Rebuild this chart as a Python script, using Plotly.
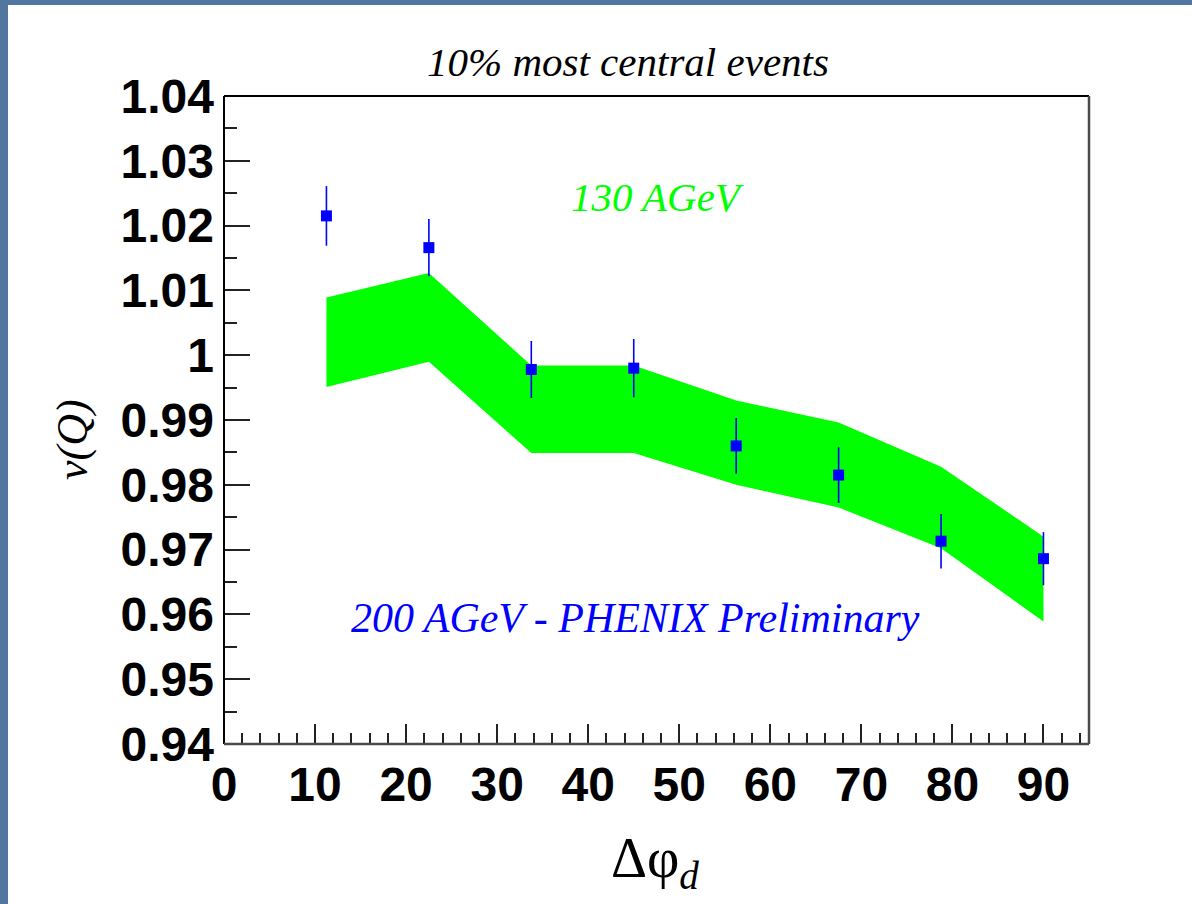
import plotly.graph_objects as go

# Azimuthal bins (degrees) and measured v(Q) at 200 AGeV
phi_d = [11.25, 22.5, 33.75, 45.0, 56.25, 67.5, 78.75, 90.0]
v_200 = [1.0215, 1.0166, 0.9978, 0.9980, 0.9860, 0.9815, 0.9713, 0.9686]
err_200 = [0.0046, 0.0044, 0.0044, 0.0045, 0.0043, 0.0043, 0.0042, 0.0041]

# 130 AGeV systematic band (upper / lower edges)
band_hi = [1.0089, 1.0127, 0.9984, 0.9984, 0.9930, 0.9896, 0.9828, 0.9720]
band_lo = [0.9951, 0.9990, 0.9849, 0.9849, 0.9800, 0.9765, 0.9702, 0.9589]

x_ticks = [0, 10, 20, 30, 40, 50, 60, 70, 80, 90]
y_ticks = [0.94, 0.95, 0.96, 0.97, 0.98, 0.99, 1.00, 1.01, 1.02, 1.03, 1.04]
y_tick_text = ["0.94", "0.95", "0.96", "0.97", "0.98", "0.99", "1", "1.01", "1.02", "1.03", "1.04"]

W, H = 1192, 904
L, R, T, B = 224, 103, 96, 160
PW, PH = W - L - R, H - T - B


def px(xp):
    return (xp - L) / PW


def py(yp):
    return (H - B - yp) / PH


fig = go.Figure()

fig.add_trace(go.Scatter(
    x=phi_d + phi_d[::-1],
    y=band_hi + band_lo[::-1],
    fill="toself", fillcolor="#00ff00",
    line=dict(width=0, color="#00ff00"),
    mode="lines", hoverinfo="skip", showlegend=False,
))

fig.add_trace(go.Scatter(
    x=phi_d, y=v_200, mode="markers",
    marker=dict(symbol="square", size=11, color="#0000ff", line=dict(width=0)),
    error_y=dict(type="data", array=err_200, color="#0000ff", thickness=1.6, width=0),
    showlegend=False,
))

tick_font = dict(family="Liberation Sans, Arial, sans-serif", size=48, color="black")
serif_it = "Liberation Serif, Times New Roman, serif"

fig.update_xaxes(
    range=[0, 95], tickvals=x_ticks, ticktext=[f"<b>{t}</b>" for t in x_ticks],
    ticks="inside", ticklen=20, tickwidth=1.5,
    tickcolor="#222", tickfont=tick_font, showgrid=False, zeroline=False,
    showline=False, ticklabelstandoff=8,
    minor=dict(dtick=2, ticks="inside", ticklen=11, tickwidth=1.5, tickcolor="#222", showgrid=False),
)
fig.update_yaxes(
    range=[0.94, 1.04], tickvals=y_ticks, ticktext=[f"<b>{t}</b>" for t in y_tick_text],
    ticks="inside", ticklen=26, tickwidth=1.5, tickcolor="#222", tickfont=tick_font,
    showgrid=False, zeroline=False, showline=False, ticklabelstandoff=9,
    minor=dict(dtick=0.005, ticks="inside", ticklen=13, tickwidth=1.5, tickcolor="#222", showgrid=False),
)

shapes = [
    # blue page border strips
    dict(type="rect", xref="paper", yref="paper", x0=px(0), x1=px(8), y0=py(H), y1=py(0),
         fillcolor="#52769f", line=dict(width=0), layer="below"),
    dict(type="rect", xref="paper", yref="paper", x0=px(0), x1=px(W), y0=py(5), y1=py(0),
         fillcolor="#52769f", line=dict(width=0), layer="below"),
    # frame
    dict(type="line", xref="paper", yref="paper", x0=0, x1=1, y0=1, y1=1,
         line=dict(color="black", width=2)),
    dict(type="line", xref="paper", yref="paper", x0=0, x1=0, y0=0, y1=1,
         line=dict(color="black", width=2)),
    dict(type="line", xref="paper", yref="paper", x0=1, x1=1, y0=0, y1=1,
         line=dict(color="#4a4a4a", width=2.5)),
    dict(type="line", xref="paper", yref="paper", x0=0, x1=1, y0=0, y1=0,
         line=dict(color="#4a4a4a", width=2.5)),
]

annotations = [
    dict(text="<i>10% most central events</i>", x=px(628), y=py(62), xref="paper", yref="paper",
         showarrow=False, xanchor="center", yanchor="middle",
         font=dict(family=serif_it, size=41, color="black")),
    dict(text="<i>130 AGeV</i>", x=px(657), y=py(197), xref="paper", yref="paper",
         showarrow=False, xanchor="center", yanchor="middle",
         font=dict(family=serif_it, size=41, color="#00ff00")),
    dict(text="<i>200 AGeV - PHENIX Preliminary</i>", x=px(635), y=py(618), xref="paper", yref="paper",
         showarrow=False, xanchor="center", yanchor="middle",
         font=dict(family=serif_it, size=42, color="#0000ff")),
    dict(text="<i>ν(Q)</i>", x=px(72), y=py(440), xref="paper", yref="paper",
         showarrow=False, xanchor="center", yanchor="middle", textangle=-90,
         font=dict(family=serif_it, size=44, color="black")),
    dict(text="Δφ<sub><i>d</i></sub>", x=px(655), y=py(862), xref="paper", yref="paper",
         showarrow=False, xanchor="center", yanchor="middle",
         font=dict(family=serif_it, size=56, color="black")),
]

fig.update_layout(
    width=W, height=H,
    margin=dict(l=L, r=R, t=T, b=B, pad=0),
    paper_bgcolor="white", plot_bgcolor="white",
    shapes=shapes, annotations=annotations,
    showlegend=False,
)

fig.write_html("out.html")
